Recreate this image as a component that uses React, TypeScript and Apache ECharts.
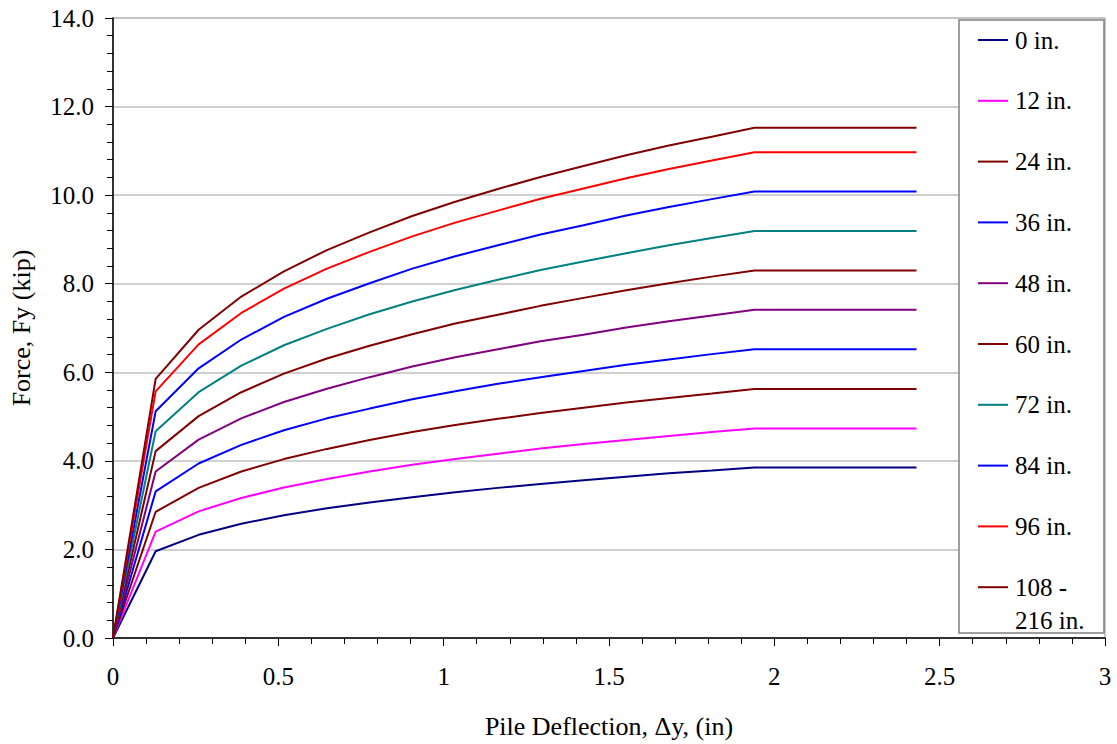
import React, { useEffect, useRef } from "react";
import * as echarts from "echarts";

const deflection = [0, 0.129, 0.259, 0.388, 0.517, 0.647, 0.776, 0.905, 1.035, 1.164, 1.293, 1.423, 1.552, 1.681, 1.811, 1.94, 2.43];

const depth0 = [0, 1.96, 2.33, 2.58, 2.77, 2.93, 3.06, 3.18, 3.29, 3.39, 3.48, 3.56, 3.64, 3.72, 3.78, 3.85, 3.85];
const depth12 = [0, 2.4, 2.86, 3.16, 3.4, 3.59, 3.76, 3.91, 4.04, 4.16, 4.28, 4.38, 4.47, 4.56, 4.65, 4.73, 4.73];
const depth24 = [0, 2.85, 3.39, 3.76, 4.04, 4.27, 4.47, 4.65, 4.81, 4.95, 5.08, 5.2, 5.32, 5.42, 5.52, 5.62, 5.62];
const depth36 = [0, 3.31, 3.94, 4.36, 4.69, 4.96, 5.18, 5.39, 5.57, 5.74, 5.89, 6.03, 6.17, 6.29, 6.41, 6.52, 6.52];
const depth48 = [0, 3.76, 4.48, 4.96, 5.33, 5.63, 5.89, 6.13, 6.34, 6.52, 6.7, 6.85, 7.01, 7.15, 7.28, 7.41, 7.41];
const depth60 = [0, 4.22, 5.01, 5.55, 5.97, 6.31, 6.6, 6.86, 7.1, 7.3, 7.5, 7.68, 7.85, 8.01, 8.16, 8.3, 8.3];
const depth72 = [0, 4.67, 5.55, 6.15, 6.61, 6.98, 7.31, 7.6, 7.86, 8.09, 8.31, 8.5, 8.69, 8.87, 9.03, 9.19, 9.19];
const depth84 = [0, 5.12, 6.09, 6.74, 7.25, 7.66, 8.01, 8.34, 8.62, 8.87, 9.11, 9.32, 9.54, 9.73, 9.91, 10.08, 10.08];
const depth96 = [0, 5.57, 6.63, 7.34, 7.89, 8.34, 8.72, 9.07, 9.38, 9.65, 9.92, 10.15, 10.38, 10.59, 10.78, 10.97, 10.97];
const depth108 = [0, 5.85, 6.96, 7.71, 8.28, 8.76, 9.16, 9.53, 9.85, 10.14, 10.41, 10.66, 10.9, 11.12, 11.32, 11.52, 11.52];

const seriesNames = ["0 in.", "12 in.", "24 in.", "36 in.", "48 in.", "60 in.", "72 in.", "84 in.", "96 in.", "108 - 216 in."];
const legendLabels = ["0 in.", "12 in.", "24 in.", "36 in.", "48 in.", "60 in.", "72 in.", "84 in.", "96 in.", "108 -\n216 in."];
const seriesValues = [depth0, depth12, depth24, depth36, depth48, depth60, depth72, depth84, depth96, depth108];
const seriesColors = ["#000080", "#FF00FF", "#800000", "#0000FF", "#800080", "#800000", "#008080", "#0000FF", "#FF0000", "#800000"];

const FONT = "Liberation Serif";

export default function App() {
  const ref = useRef<HTMLDivElement>(null);

  useEffect(() => {
    document.body.style.margin = "0";
    if (!ref.current) return;
    const chart = echarts.init(ref.current, undefined, { renderer: "svg" });

    const series = seriesNames.map((name, i) => ({
      name,
      type: "line",
      data: deflection.map((x, j) => [x, seriesValues[i][j]]),
      symbol: "none",
      lineStyle: { color: seriesColors[i], width: 2 },
      itemStyle: { color: seriesColors[i] },
      z: 2,
    }));

    // legend drawn as graphic elements (box, key lines, labels)
    const legendTop = 40;
    const legendStep = 60.8;
    const legendElems: any[] = [
      {
        type: "rect",
        z: 1,
        shape: { x: 959, y: 20, width: 145, height: 613 },
        style: { fill: "#ffffff", stroke: "#808080", lineWidth: 1.5 },
      },
    ];
    legendLabels.forEach((label, i) => {
      const cy = legendTop + i * legendStep;
      const lines = label.split("\n");
      legendElems.push({
        type: "line",
        z: 5,
        shape: { x1: 978, y1: cy, x2: 1008, y2: cy },
        style: { stroke: seriesColors[i], lineWidth: 2 },
      });
      lines.forEach((t, k) => {
        legendElems.push({
          type: "text",
          z: 5,
          x: 1015,
          y: cy + k * 33,
          style: {
            text: t,
            fontFamily: FONT,
            fontSize: 25,
            fill: "#000",
            align: "left",
            verticalAlign: "middle",
          },
        });
      });
    });

    const option: any = {
      animation: false,
      backgroundColor: "#ffffff",
      textStyle: { fontFamily: FONT },
      grid: {
        left: 113,
        right: 12,
        top: 18,
        bottom: 106,
        containLabel: false,
        show: true,
        borderColor: "#8c8c8c",
        borderWidth: 1,
        backgroundColor: "transparent",
      },
      xAxis: {
        type: "value",
        min: 0,
        max: 3,
        interval: 0.5,
        name: "Pile Deflection, \u0394y, (in)",
        nameLocation: "middle",
        nameGap: 75,
        nameTextStyle: { fontFamily: FONT, fontSize: 26, color: "#000" },
        axisLine: { show: true, onZero: false, lineStyle: { color: "#000", width: 1.5 } },
        axisTick: { show: true, inside: false, length: 8, lineStyle: { color: "#000", width: 1 } },
        minorTick: { show: true, splitNumber: 5, length: 6, lineStyle: { color: "#000", width: 1 } },
        axisLabel: { fontFamily: FONT, fontSize: 25, color: "#000", margin: 26 },
        splitLine: { show: false },
      },
      yAxis: {
        type: "value",
        min: 0,
        max: 14,
        interval: 2,
        name: "Force, Fy (kip)",
        nameLocation: "middle",
        nameGap: 79,
        nameTextStyle: { fontFamily: FONT, fontSize: 26, color: "#000" },
        axisLine: { show: true, onZero: false, lineStyle: { color: "#000", width: 1.5 } },
        axisTick: { show: true, inside: false, length: 8, lineStyle: { color: "#000", width: 1 } },
        minorTick: { show: true, splitNumber: 5, length: 6, lineStyle: { color: "#000", width: 1 } },
        axisLabel: {
          fontFamily: FONT,
          fontSize: 25,
          color: "#000",
          margin: 19,
          formatter: (v: number) => v.toFixed(1),
        },
        splitLine: { show: true, lineStyle: { color: "#c0c0c0", width: 1.5 } },
      },
      graphic: legendElems,
      series,
    };

    chart.setOption(option);
    return () => chart.dispose();
  }, []);

  return <div ref={ref} style={{ width: 1117, height: 744 }} />;
}
